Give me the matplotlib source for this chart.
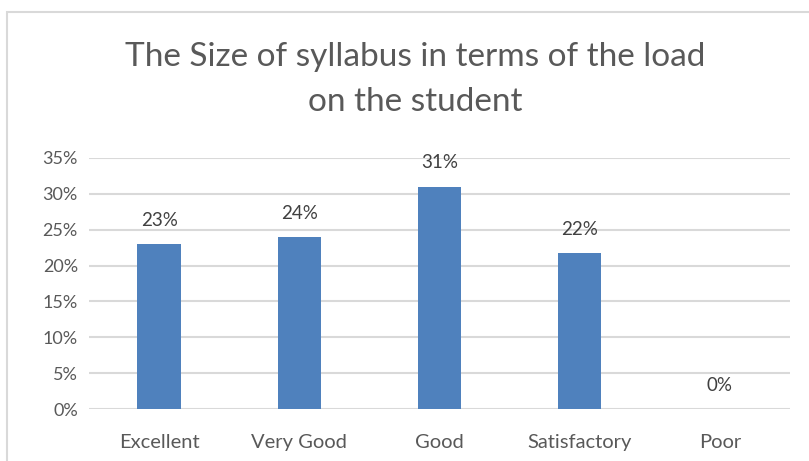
import numpy as np
import matplotlib.pyplot as plt
from matplotlib.patches import Rectangle

categories = ['Excellent', 'Very Good', 'Good', 'Satisfactory', 'Poor']
shares = [0.23, 0.24, 0.31, 0.217, 0.0]
yticks = [0, 0.05, 0.10, 0.15, 0.20, 0.25, 0.30, 0.35]

plt.rcParams['font.family'] = ['Lato', 'DejaVu Sans']
grey = '#595959'

fig = plt.figure(figsize=(8.09, 4.61), dpi=100)
# chart frame
fig.patches.append(Rectangle((7 / 809, -0.05), 1.1, 1 - 12 / 461 + 0.05,
                             transform=fig.transFigure, fill=False,
                             edgecolor='#D9D9D9', linewidth=1.5))

ax = fig.add_axes([89 / 809, 1 - 409 / 461, 701 / 809, 251 / 461])
x = np.arange(len(categories))
ax.bar(x, shares, width=0.31, color='#4F81BD', zorder=3)

for xi, v in zip(x, shares):
    ax.annotate('%d%%' % round(v * 100), (xi, v), xytext=(0, 11),
                textcoords='offset points', ha='center', va='bottom',
                fontsize=13.5, color='#404040')

ax.set_xlim(-0.5, len(categories) - 0.5)
ax.set_ylim(0, 0.35)
ax.set_yticks(yticks)
ax.set_yticklabels(['%d%%' % round(t * 100) for t in yticks])
ax.set_xticks(x)
ax.set_xticklabels(categories)
ax.tick_params(axis='both', length=0, labelcolor=grey)
ax.tick_params(axis='x', pad=18, labelsize=14.5)
ax.tick_params(axis='y', pad=8, labelsize=13)
ax.grid(axis='y', color='#D9D9D9', linewidth=1.5, zorder=0)
for s in ax.spines.values():
    s.set_visible(False)

fig.text(415 / 809, 1 - 57 / 461, 'The Size of syllabus in terms of the load',
         ha='center', va='center', fontsize=24, color=grey)
fig.text(415 / 809, 1 - 102 / 461, 'on the student',
         ha='center', va='center', fontsize=24, color=grey)

fig.savefig('out.png', dpi=100)
